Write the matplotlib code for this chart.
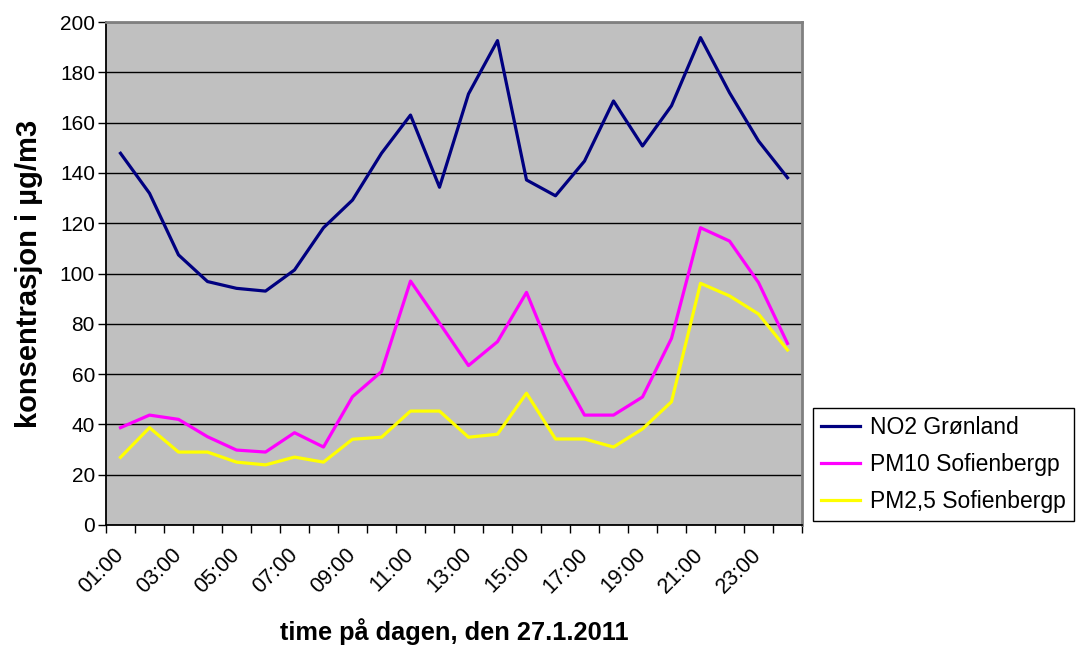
import numpy as np
import matplotlib.pyplot as plt

hours = ["%02d:00" % h for h in range(1, 25)]

no2 = [147.8, 131.9, 107.4, 96.8, 94.1, 93.0, 101.4, 118.2, 129.2, 147.8, 163.0, 134.3,
       171.4, 192.6, 137.2, 130.9, 144.7, 168.6, 150.7, 166.7, 193.8, 171.9, 152.7, 138.1]
pm10 = [38.7, 43.7, 42.0, 35.1, 29.8, 29.0, 36.7, 31.0, 51.0, 61.0, 97.0, 80.3,
        63.4, 72.9, 92.5, 64.3, 43.7, 43.7, 50.9, 74.2, 118.2, 112.9, 96.4, 72.2]
pm25 = [26.9, 38.7, 29.0, 29.0, 25.0, 23.9, 27.0, 25.0, 34.1, 34.9, 45.3, 45.3,
        34.9, 36.1, 52.4, 34.2, 34.2, 31.0, 38.2, 49.0, 96.1, 91.1, 83.9, 69.6]

plt.rcParams['font.family'] = ['Liberation Sans', 'DejaVu Sans']

fig = plt.figure(figsize=(10.77, 6.46), dpi=100)
ax = fig.add_axes([106 / 1077, 1 - 525 / 646, 696 / 1077, 503 / 646])
ax.set_facecolor('#C0C0C0')

x = np.arange(len(hours))
ax.plot(x, no2, color='#000080', lw=2.3, label='NO2 Grønland')
ax.plot(x, pm10, color='#FF00FF', lw=2.3, label='PM10 Sofienbergp')
ax.plot(x, pm25, color='#FFFF00', lw=2.3, label='PM2,5 Sofienbergp')

ax.set_xlim(-0.5, len(hours) - 0.5)
ax.set_ylim(0, 200)
ax.set_yticks(np.arange(0, 201, 20))
ax.yaxis.grid(True, color='black', lw=1.0)
ax.set_axisbelow(True)

# category boundaries as tick marks, every other hour labelled
ax.set_xticks(np.arange(-0.5, len(hours)), minor=True)
ax.set_xticks(x[::2])
ax.set_xticklabels(hours[::2], rotation=45, ha='right', va='center', rotation_mode='anchor')
ax.tick_params(axis='x', which='major', length=0, pad=19, labelsize=15.5)
ax.tick_params(axis='x', which='minor', length=6, width=1, color='black', direction='out')
ax.tick_params(axis='y', length=6, width=1, color='black', labelsize=15, pad=2)

for s in ['top', 'right']:
    ax.spines[s].set_color('#808080')
    ax.spines[s].set_linewidth(2)
for s in ['left', 'bottom']:
    ax.spines[s].set_color('black')
    ax.spines[s].set_linewidth(1.3)

ax.set_xlabel('time på dagen, den 27.1.2011', fontsize=18.3, fontweight='bold', labelpad=15)
ax.set_ylabel('konsentrasjon i µg/m3', fontsize=21, fontweight='bold', labelpad=12)

leg = fig.legend(loc='upper left', bbox_to_anchor=(813 / 1077, 1 - 408 / 646),
                 fontsize=16.5, frameon=True, fancybox=False, edgecolor='black',
                 framealpha=1, borderaxespad=0, handlelength=1.7, handletextpad=0.45,
                 labelspacing=0.6, borderpad=0.35)
leg.get_frame().set_linewidth(1.0)

fig.savefig('out.png', dpi=100)
